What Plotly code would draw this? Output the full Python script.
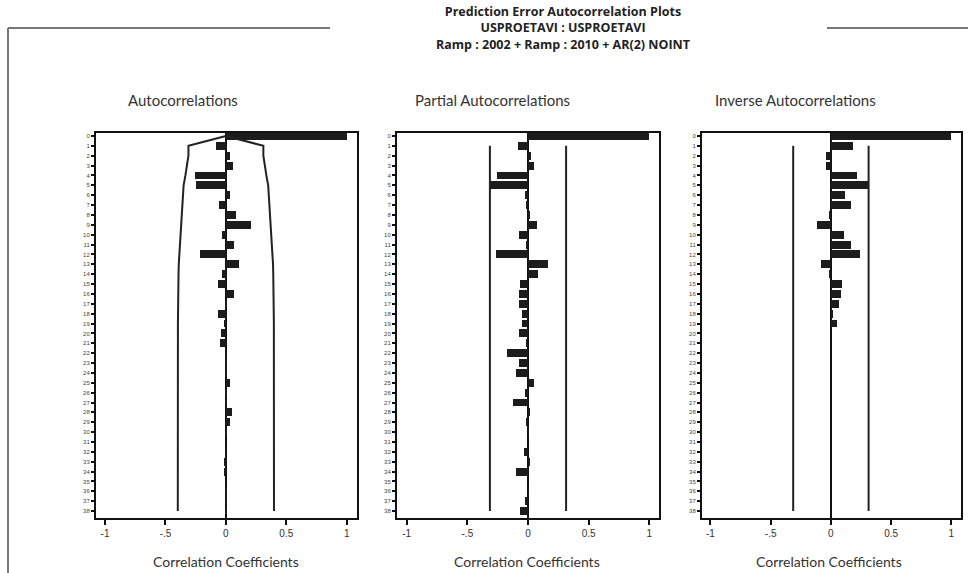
import plotly.graph_objects as go

lags = list(range(39))
acf = [1.0, -0.08, 0.035, 0.055, -0.255, -0.245, 0.03, -0.055, 0.08, 0.21,
       -0.03, 0.065, -0.215, 0.105, -0.03, -0.065, 0.065, 0.01, -0.065, -0.01,
       -0.04, -0.045, -0.005, 0.005, 0.005, 0.035, 0.01, 0.005, 0.05, 0.03,
       0.005, 0.0, -0.005, -0.01, -0.01, 0.0, 0.005, 0.01, 0.005]
acf_band = [0.0, 0.31, 0.31, 0.32, 0.335, 0.35, 0.355, 0.36, 0.37, 0.375,
            0.38, 0.383, 0.385, 0.39, 0.392, 0.394, 0.395, 0.396, 0.397, 0.397,
            0.397, 0.397, 0.398, 0.398, 0.398, 0.398, 0.398, 0.398, 0.398, 0.398,
            0.398, 0.398, 0.398, 0.398, 0.398, 0.398, 0.398, 0.398, 0.398]
pacf = [1.0, -0.083, 0.028, 0.05, -0.253, -0.317, -0.028, -0.02, 0.014, 0.077,
        -0.077, -0.01, -0.267, 0.165, 0.083, -0.069, -0.077, -0.077, -0.047, -0.047,
        -0.077, -0.01, -0.17, -0.074, -0.1, 0.05, -0.028, -0.124, 0.01, -0.01,
        0.005, 0.0, -0.033, 0.01, -0.096, 0.0, 0.005, -0.028, -0.063]
iacf = [1.0, 0.185, -0.044, -0.044, 0.218, 0.309, 0.121, 0.163, -0.015, -0.113,
        0.107, 0.163, 0.245, -0.085, -0.016, 0.088, 0.083, 0.069, 0.02, 0.047,
        0.0, 0.0, 0.0, 0.0, 0.0, 0.0, 0.0, 0.0, 0.0, 0.0,
        0.0, 0.0, 0.0, 0.0, 0.0, 0.0, 0.0, 0.0, 0.0]
pacf_limit = 0.314
iacf_limit = 0.313
xtick_vals = [-1, -0.5, 0, 0.5, 1]
xtick_text = ["-1", "-.5", "0", "0.5", "1"]
panel_titles = ["Autocorrelations", "Partial Autocorrelations", "Inverse Autocorrelations"]
title_lines = ["Prediction Error Autocorrelation Plots", "USPROETAVI : USPROETAVI",
               "Ramp : 2002 + Ramp : 2010 + AR(2) NOINT"]

W, H = 968, 573
BAR = "#1c1c1c"
LINE = "#222222"

fig = go.Figure()

doms = [(96, 357), (397, 659), (702, 961)]
ranges = [[-1.075, 1.085], [-1.08, 1.08], [-1.07, 1.08]]
ytop, ybot = 133, 518

series = [acf, pacf, iacf]
for i, vals in enumerate(series):
    xa = "x" if i == 0 else f"x{i+1}"
    ya = "y" if i == 0 else f"y{i+1}"
    fig.add_trace(go.Bar(x=vals, y=lags, orientation="h", width=0.8,
                         marker=dict(color=BAR, line=dict(width=0)),
                         xaxis=xa, yaxis=ya, showlegend=False))

fig.add_trace(go.Scatter(x=[-b for b in acf_band], y=lags, mode="lines",
                         line=dict(color=LINE, width=2), xaxis="x", yaxis="y", showlegend=False))
fig.add_trace(go.Scatter(x=acf_band, y=lags, mode="lines",
                         line=dict(color=LINE, width=2), xaxis="x", yaxis="y", showlegend=False))
for i, lim in [(1, pacf_limit), (2, iacf_limit)]:
    xa, ya = f"x{i+1}", f"y{i+1}"
    for s in (-1, 1):
        fig.add_trace(go.Scatter(x=[s * lim, s * lim], y=[lags[1], lags[-1]], mode="lines",
                                 line=dict(color=LINE, width=2), xaxis=xa, yaxis=ya,
                                 showlegend=False))

layout = dict(width=W, height=H, margin=dict(l=0, r=0, t=0, b=0),
              paper_bgcolor="white", plot_bgcolor="white", bargap=0)

for i in range(3):
    xk = "xaxis" if i == 0 else f"xaxis{i+1}"
    yk = "yaxis" if i == 0 else f"yaxis{i+1}"
    xa_anchor = "y" if i == 0 else f"y{i+1}"
    ya_anchor = "x" if i == 0 else f"x{i+1}"
    layout[xk] = dict(domain=[doms[i][0] / W, doms[i][1] / W], range=ranges[i],
                      anchor=xa_anchor, tickvals=xtick_vals, ticktext=xtick_text,
                      ticks="outside", ticklen=5, tickwidth=2, tickcolor="#111",
                      showline=True, linecolor="#111", linewidth=2, mirror=True,
                      showgrid=False, zeroline=True, zerolinecolor="#111", zerolinewidth=1.8,
                      tickfont=dict(family="Liberation Sans, Arial", size=10, color="#333"))
    layout[yk] = dict(domain=[1 - ybot / H, 1 - ytop / H], range=[38.7, -0.3],
                      anchor=ya_anchor, tickvals=lags, ticktext=[str(v) for v in lags],
                      ticks="outside", ticklen=3, tickwidth=2, tickcolor="#111",
                      showline=True, linecolor="#111", linewidth=2, mirror=True,
                      showgrid=False, zeroline=False,
                      tickfont=dict(family="Liberation Sans, Arial", size=6, color="#444"))

fig.update_layout(**layout)

ann = [dict(text="<br>".join(f"<b>{t}</b>" for t in title_lines), x=563 / W, y=1 - 1 / H,
            xref="paper", yref="paper", showarrow=False, xanchor="center", yanchor="top",
            align="center", font=dict(family="Open Sans, Lato", size=12.5, color="#222"))]
for txt, cx in zip(panel_titles, [183, 492, 795]):
    ann.append(dict(text=txt, x=cx / W, y=1 - 100 / H, xref="paper", yref="paper",
                    showarrow=False, xanchor="center", yanchor="middle",
                    font=dict(family="Lato, Open Sans", size=15, color="#333")))
for cx in [226, 527, 829]:
    ann.append(dict(text="Correlation Coefficients", x=cx / W, y=1 - 561 / H, xref="paper",
                    yref="paper", showarrow=False, xanchor="center", yanchor="middle",
                    font=dict(family="Lato, Open Sans", size=14, color="#333")))
fig.update_layout(annotations=ann)

shapes = [
    dict(type="line", xref="paper", yref="paper", x0=8 / W, x1=330 / W, y0=1 - 28 / H, y1=1 - 28 / H,
         line=dict(color="#777", width=2)),
    dict(type="line", xref="paper", yref="paper", x0=827 / W, x1=1, y0=1 - 28 / H, y1=1 - 28 / H,
         line=dict(color="#777", width=2)),
    dict(type="line", xref="paper", yref="paper", x0=8 / W, x1=8 / W, y0=0, y1=1 - 28 / H,
         line=dict(color="#777", width=2)),
]
fig.update_layout(shapes=shapes)

fig.write_html("out.html", config={"displayModeBar": False},
               post_script="document.body.style.margin='0px';document.body.style.overflow='hidden';")
